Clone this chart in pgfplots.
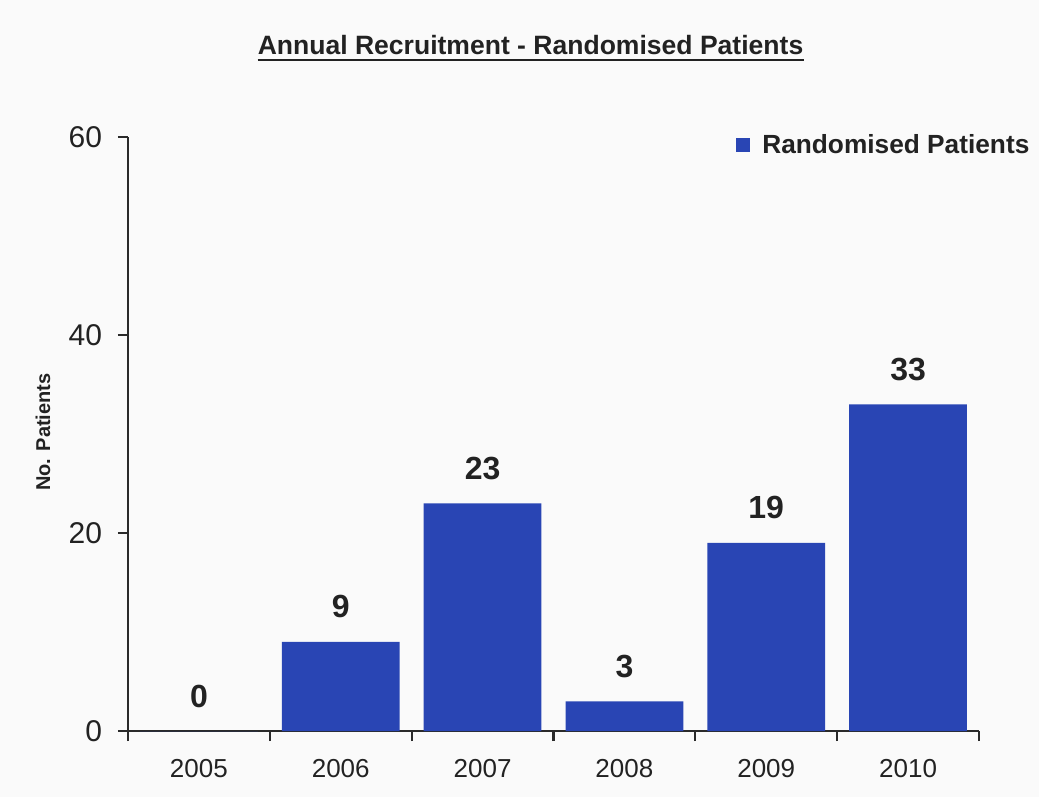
\documentclass[border=0pt]{standalone}
\usepackage{fontspec}
\setmainfont{Liberation Sans}
\usepackage{pgfplots}
\pgfplotsset{compat=1.18}
\definecolor{barblue}{HTML}{2945B4}
\definecolor{txt}{HTML}{222222}
\definecolor{axcol}{HTML}{2A2A2A}
\definecolor{bg}{HTML}{FAFAFA}
\begin{document}
\begin{tikzpicture}
\fill[bg] (0pt,0pt) rectangle (779.25pt,597.75pt);
\node[inner sep=0pt, anchor=base, text=txt, font=\fontsize{19.9}{22}\selectfont\bfseries] (t) at (397.9pt,556.5pt) {Annual Recruitment - Randomised Patients};
\draw[txt, line width=1.5pt] ([yshift=-3.5pt]t.base west) -- ([yshift=-3.5pt]t.base east);
\begin{axis}[
  at={(96pt,49.5pt)}, anchor=south west,
  scale only axis, width=638.25pt, height=445.5pt,
  xmin=-0.5, xmax=5.5, ymin=0, ymax=60,
  axis x line*=bottom, axis y line*=left,
  axis line style={axcol, line width=1.7pt},
  /pgf/number format/assume math mode=true,
  xtick={0,1,2,3,4,5},
  xticklabels={2005,2006,2007,2008,2009,2010},
  major x tick style={draw=none},
  minor xtick={-0.5,0.5,1.5,2.5,3.5,4.5,5.5},
  minor x tick style={axcol, line width=1.7pt},
  minor tick length=7.5pt,
  ytick={0,20,40,60},
  y tick style={axcol, line width=1.7pt},
  major tick length=7.5pt,
  tick align=outside,
  xticklabel style={font=\fontsize{19.5}{22}\selectfont, text=txt, yshift=-10pt},
  yticklabel style={font=\fontsize{22.5}{25}\selectfont, text=txt, xshift=-8.5pt},
  ylabel={No. Patients},
  ylabel style={at={(rel axis cs:-0.0999,0.503)}, anchor=center, rotate=0, font=\fontsize{15}{18}\selectfont\bfseries, text=txt},
  ybar, bar width=0.83, bar shift=0pt,
  nodes near coords,
  every node near coord/.style={anchor=base, yshift=18pt, font=\fontsize{24}{28}\selectfont\bfseries, text=txt},
  legend style={at={(rel axis cs:0.7145,0.9865)}, anchor=west, draw=none, fill=none, inner sep=0pt,
     font=\fontsize{19.7}{22}\selectfont\bfseries, text=txt,
     /tikz/every odd column/.style={column sep=7pt}},
  legend image code/.code={\fill[barblue] (0pt,-5.25pt) rectangle (10.5pt,5.25pt);},
  clip=false,
]
\addplot[fill=barblue, draw=none] coordinates {(0,0) (1,9) (2,23) (3,3) (4,19) (5,33)};
\addlegendentry{Randomised Patients}
\end{axis}
\end{tikzpicture}
\end{document}
